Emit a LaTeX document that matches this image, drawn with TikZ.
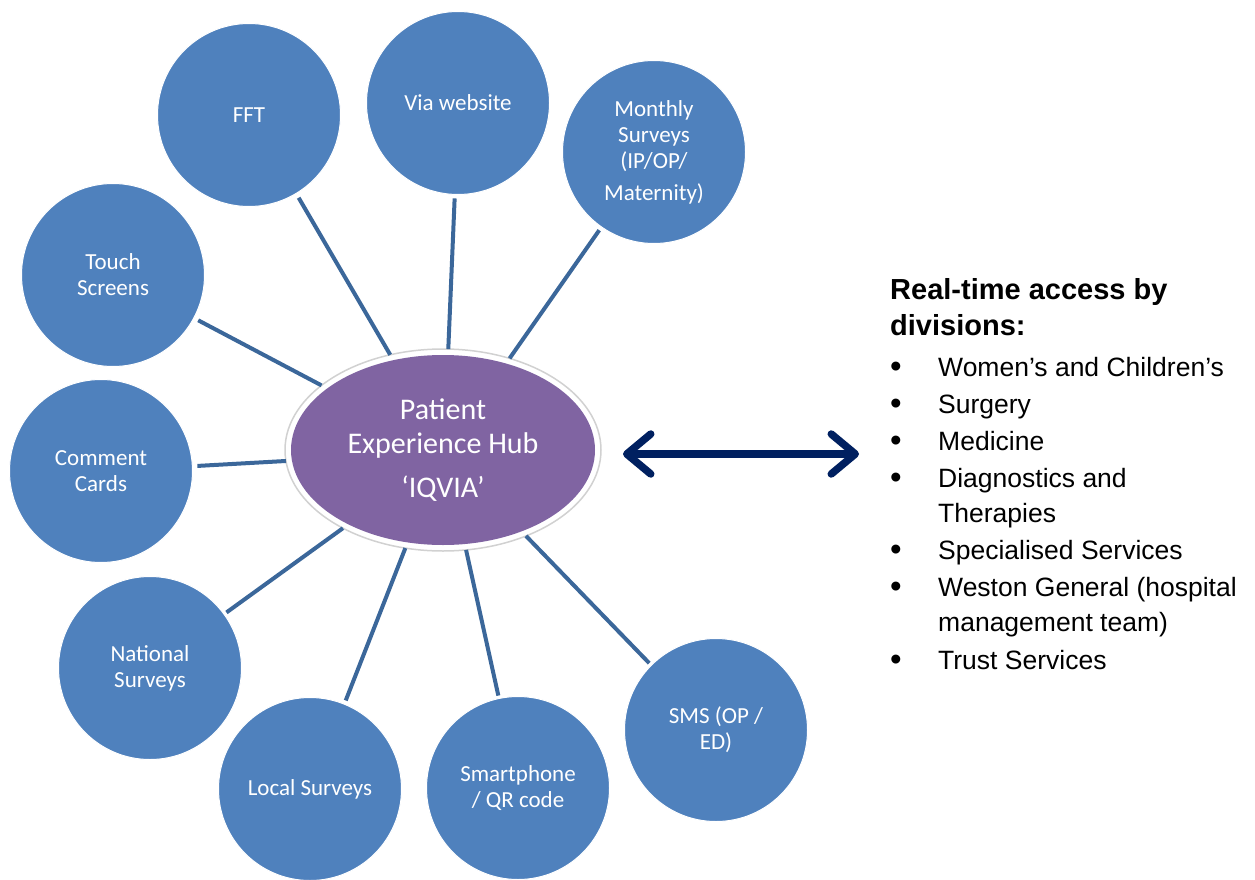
\documentclass[tikz,border=0pt]{standalone}
\usepackage{fontspec}
\setmainfont{Liberation Sans}
\newfontfamily\carlito{Carlito}
\usetikzlibrary{arrows.meta,shapes.geometric}

\definecolor{srcblue}{HTML}{4F81BD}
\definecolor{hubpurple}{HTML}{8064A2}
\definecolor{linkblue}{HTML}{3B679A}
\definecolor{navyarrow}{HTML}{002060}

\begin{document}
\begin{tikzpicture}[x=1pt,y=-1pt,
  source/.style={circle, fill=srcblue, draw=white, line width=1pt,
    minimum size=183pt, inner sep=0pt, outer sep=0pt, text=white,
    align=center, font=\carlito\fontsize{23}{26}\selectfont},
  hubring/.style={ellipse, fill=white, draw=black!18, line width=1.5pt,
    minimum width=316pt, minimum height=202pt, inner sep=0pt, outer sep=0pt},
  hubcore/.style={ellipse, fill=hubpurple, minimum width=304pt,
    minimum height=190pt, inner sep=0pt, text=white, align=center,
    font=\carlito\fontsize{30}{34}\selectfont},
  link/.style={draw=linkblue, line width=4pt},
  access/.style={draw=navyarrow, line width=7.5pt,
    {Straight Barb[length=24pt,width=40pt,round]}-{Straight Barb[length=24pt,width=40pt,round]}},
  heading/.style={anchor=base west, inner sep=0pt, font=\bfseries\fontsize{29}{36}\selectfont},
  itemtext/.style={anchor=base west, inner sep=0pt, font=\fontsize{26.5}{36}\selectfont},
  bulletmark/.style={anchor=base west, inner sep=0pt, font=\fontsize{33}{36}\selectfont}
]
\useasboundingbox (0,0) rectangle (1255,880);

% central hub with its white rim
\node[hubring] (hub) at (443,450) {};
\node[hubcore] (hubtext) at (hub.center) {Patient\\Experience Hub\\[10pt]‘IQVIA’};

% feedback channels
\node[source] (fft)   at (249,115) {FFT};
\node[source] (web)   at (458,103) {Via website};
\node[source] (month) at (654,152) {Monthly\\Surveys\\(IP/OP/\\[6pt]Maternity)};
\node[source] (touch) at (113,275) {Touch\\Screens};
\node[source] (cards) at (101,471) {Comment\\Cards};
\node[source] (natl)  at (150,668) {National\\Surveys};
\node[source] (local) at (310,789) {Local Surveys};
\node[source] (phone) at (518,788) {Smartphone\\/ QR code};
\node[source] (sms)   at (716,730) {SMS (OP /\\ED)};

% spokes
\draw[link, shorten <=5pt] (fft.-59)   -- (hub.119);
\draw[link, shorten <=4pt] (web.-92)   -- (hub.87);
\draw[link, shorten <=4pt] (month.-125) -- (hub.54);
\draw[link, shorten <=5pt] (touch.-28) -- (hub.152);
\draw[link, shorten <=5pt] (cards.3)   -- (hub.-176);
\draw[link, shorten <=3pt] (natl.36)   -- (hub.-142);
\draw[link, shorten <=4pt] (local.68)  -- (hub.-111);
\draw[link, shorten <=3pt] (phone.102) -- (hub.-77);
\draw[link, shorten <=3pt] (sms.135)   -- (hub.-46);

% two-way access arrow
\coordinate (accL) at (623,454);
\coordinate (accR) at (859,454);
\draw[access] (accL) -- (accR);

% divisions list
\node[heading] (head1) at (890,299) {Real-time access by};
\node[heading] (head2) at (890,335) {divisions:};

\foreach \n/\y/\b/\t in {
  1/376/•/Women’s and Children’s,
  2/413/•/Surgery,
  3/450/•/Medicine,
  4/487/•/Diagnostics and,
  5/522//Therapies,
  6/559/•/Specialised Services,
  7/596/•/Weston General (hospital,
  8/631//management team),
  9/669/•/Trust Services}{
  \node[bulletmark] (mark\n) at (890,\y+1) {\b};
  \node[itemtext] (item\n) at (938,\y) {\t};
}
\end{tikzpicture}
\end{document}
